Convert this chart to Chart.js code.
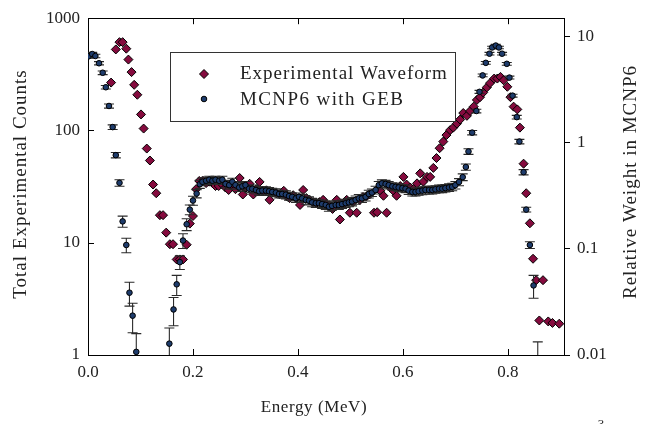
<!DOCTYPE html>
<html>
<head>
<meta charset="utf-8">
<script src="https://cdn.jsdelivr.net/npm/chart.js@4.4.1/dist/chart.umd.min.js"></script>
<style>
  html, body { margin: 0; padding: 0; background: #fff; }
  canvas { display: block; }
</style>
</head>
<body>
<canvas id="spectrum_canvas" width="655" height="424"></canvas>
<script>
// tick labels
var energyTicks = [0, 0.2, 0.4, 0.6, 0.8];
var countTicks = [1, 10, 100, 1000];
var weightTicks = [0.01, 0.1, 1, 10];

// Experimental Waveform (left axis, counts)
var expEnergy = [
  0.044, 0.053, 0.060, 0.066, 0.073, 0.077, 0.083, 0.088, 0.094, 0.101,
  0.106, 0.112, 0.118, 0.124, 0.130, 0.137, 0.143, 0.149, 0.156, 0.162,
  0.169, 0.175, 0.181, 0.188, 0.194, 0.200, 0.206, 0.212,
  0.219, 0.225, 0.231, 0.237, 0.243, 0.249, 0.256, 0.262, 0.268, 0.275,
  0.281, 0.289, 0.295, 0.301, 0.308, 0.315, 0.321, 0.327, 0.333, 0.340,
  0.346, 0.352, 0.359, 0.365, 0.373, 0.378, 0.384, 0.391, 0.397, 0.404,
  0.410, 0.416, 0.422, 0.429, 0.435, 0.441, 0.448, 0.454, 0.460, 0.466,
  0.474, 0.480, 0.486, 0.493, 0.499, 0.505, 0.512, 0.518, 0.524, 0.531,
  0.537, 0.545, 0.551, 0.557, 0.563, 0.569, 0.576, 0.582, 0.588, 0.595,
  0.601, 0.607, 0.614, 0.620, 0.627, 0.633, 0.639, 0.646, 0.652, 0.658,
  0.664, 0.670, 0.677, 0.683, 0.690, 0.696, 0.703, 0.709, 0.715, 0.722,
  0.728, 0.735, 0.741, 0.747, 0.753, 0.760, 0.766, 0.774, 0.780, 0.786,
  0.792, 0.799, 0.805, 0.811, 0.818, 0.823, 0.830, 0.835, 0.842, 0.848,
  0.854, 0.860, 0.867, 0.877, 0.885, 0.898
];
var expCounts = [
  267, 527, 612, 612, 535, 428, 331, 255, 208, 139,
  104, 69, 54, 33, 27.6, 17.6, 17.6, 12.3, 9.7, 9.7,
  7.1, 7.1, 7.1, 9.6, 14.8, 17.3, 30, 35.5,
  35.6, 34, 35, 34, 32, 32, 33, 31, 29.5, 32,
  30, 37.7, 26.9, 31, 33.5, 26.9, 30, 34.8, 29, 29.3,
  24.1, 28, 27.5, 27, 29, 26, 25, 26.5, 25, 21.7,
  29.5, 25, 24, 23, 22.5, 23, 24.1, 22, 21.5, 20,
  24.1, 16.1, 22, 24.1, 18.5, 23, 18.5, 24, 25.5, 26,
  27, 18.5, 18.7, 29, 26.2, 18.5, 31, 29, 26.2, 32,
  38.6, 33, 31, 30, 33.8, 41.5, 35, 38.6, 38.6, 46.4,
  56.8, 69.5, 79.6, 91, 100.7, 106, 115, 125, 143, 135,
  149, 163, 187, 198, 218, 242, 264, 290, 290, 300,
  280, 245, 198, 163, 154, 106, 50.6, 27.6, 14.9, 7.2,
  4.64, 2.03, 4.64, 1.99, 1.93, 1.9
];

// MCNP6 with GEB (right axis, relative weight)
var mcnpEnergy = [
  0.001, 0.008, 0.014, 0.021, 0.028, 0.034, 0.040, 0.047, 0.053, 0.060,
  0.066, 0.073, 0.079, 0.085, 0.092,
  0.155, 0.163, 0.169, 0.175, 0.181, 0.188, 0.194, 0.200, 0.207, 0.213,
  0.218, 0.225, 0.231, 0.237, 0.243, 0.250, 0.256, 0.262, 0.269, 0.275,
  0.281, 0.288, 0.294, 0.300, 0.307, 0.313, 0.320, 0.326, 0.332, 0.339,
  0.345, 0.351, 0.358, 0.364, 0.370, 0.377, 0.383, 0.389, 0.396, 0.402,
  0.408, 0.415, 0.421, 0.427, 0.434, 0.440, 0.446, 0.453, 0.459, 0.465,
  0.472, 0.478, 0.484, 0.491, 0.497, 0.503, 0.510, 0.516, 0.522, 0.529,
  0.535, 0.541, 0.548, 0.554, 0.560, 0.567, 0.573, 0.580, 0.586, 0.592,
  0.599, 0.605, 0.611, 0.618, 0.624, 0.630, 0.637, 0.643, 0.650, 0.656,
  0.662, 0.669, 0.675, 0.681, 0.688, 0.694, 0.700,
  0.707, 0.714, 0.720, 0.725, 0.732, 0.740, 0.746, 0.752, 0.758, 0.765,
  0.770, 0.777, 0.783, 0.789, 0.798, 0.803, 0.809, 0.817, 0.822, 0.830,
  0.835, 0.842, 0.849, 0.857
];
var mcnpWeight = [
  6.55, 6.89, 6.60, 5.64, 4.59, 3.35, 2.23, 1.41, 0.767, 0.420,
  0.182, 0.109, 0.0387, 0.0235, 0.0107,
  0.0128, 0.0269, 0.0464, 0.0751, 0.120, 0.171, 0.235, 0.286, 0.333, 0.408,
  0.43, 0.44, 0.45, 0.44, 0.45, 0.44, 0.45, 0.41, 0.40, 0.43,
  0.40, 0.38, 0.39, 0.40, 0.37, 0.37, 0.36, 0.35, 0.355, 0.355,
  0.35, 0.345, 0.34, 0.33, 0.33, 0.325, 0.315, 0.31, 0.30, 0.31,
  0.30, 0.29, 0.285, 0.275, 0.27, 0.27, 0.265, 0.26, 0.25, 0.255,
  0.26, 0.26, 0.265, 0.27, 0.275, 0.28, 0.29, 0.30, 0.30, 0.31,
  0.33, 0.34, 0.36, 0.40, 0.415, 0.41, 0.40, 0.39, 0.385, 0.38,
  0.375, 0.37, 0.355, 0.345, 0.345, 0.35, 0.355, 0.36, 0.36, 0.36,
  0.365, 0.37, 0.37, 0.375, 0.38, 0.385, 0.40,
  0.428, 0.476, 0.593, 0.83, 1.25, 2.00, 3.03, 4.33, 5.69, 6.94,
  7.94, 8.28, 7.94, 6.94, 5.57, 4.13, 2.79, 1.75, 1.03, 0.53,
  0.235, 0.109, 0.0453, 0.007
];
var mcnpError = [
  0.25, 0.25, 0.25, 0.2, 0.18, 0.13, 0.1, 0.07, 0.045, 0.03,
  0.022, 0.017, 0.0098, 0.0073, 0.0052,
  0.0052, 0.008, 0.01, 0.011, 0.019, 0.022, 0.025, 0.028, 0.03, 0.035,
  0.035, 0.035, 0.035, 0.035, 0.035, 0.035, 0.035, 0.033, 0.033, 0.035,
  0.033, 0.032, 0.032, 0.033, 0.031, 0.031, 0.03, 0.03, 0.03, 0.03,
  0.03, 0.029, 0.029, 0.028, 0.028, 0.028, 0.027, 0.027, 0.026, 0.027,
  0.026, 0.026, 0.025, 0.025, 0.024, 0.024, 0.024, 0.024, 0.023, 0.023,
  0.024, 0.024, 0.024, 0.024, 0.025, 0.025, 0.026, 0.026, 0.026, 0.027,
  0.028, 0.028, 0.03, 0.032, 0.033, 0.033, 0.032, 0.031, 0.031, 0.031,
  0.03, 0.03, 0.029, 0.029, 0.029, 0.029, 0.03, 0.03, 0.03, 0.03,
  0.03, 0.03, 0.03, 0.031, 0.031, 0.031, 0.032,
  0.033, 0.035, 0.04, 0.05, 0.06, 0.08, 0.1, 0.13, 0.17, 0.2,
  0.22, 0.23, 0.22, 0.2, 0.17, 0.13, 0.09, 0.07, 0.05, 0.03,
  0.012, 0.008, 0.011, 0.0063
];

var SERIF = "'Liberation Serif', 'DejaVu Serif', serif";
var TEXT = '#222';
var RED = '#850b3e';
var BLUE = '#1e3c6c';

function toPoints(xs, ys){
    var pts = [];
    for(var i = 0; i < xs.length; i++){
        pts.push({x: xs[i], y: ys[i]});
    }
    return pts;
}

// error bars for the MCNP6 points, drawn just before that dataset
var errorBarPlugin = {
    id: 'errorBars',
    beforeDatasetDraw: function(chart, args){
        if(args.index !== 0) return;
        var ctx = chart.ctx, a = chart.chartArea;
        var xs = chart.scales.x, ys = chart.scales.y1;
        ctx.save();
        ctx.beginPath();
        ctx.rect(a.left, a.top, a.right - a.left, a.bottom - a.top);
        ctx.clip();
        ctx.strokeStyle = '#2a2a2a';
        ctx.lineWidth = 1.1;
        for(var i = 0; i < mcnpEnergy.length; i++){
            var px = xs.getPixelForValue(mcnpEnergy[i]);
            var hi = ys.getPixelForValue(mcnpWeight[i] + mcnpError[i]);
            var lowVal = mcnpWeight[i] - mcnpError[i];
            var lo = ys.getPixelForValue(lowVal > 0 ? lowVal : 0.0001);
            ctx.beginPath();
            ctx.moveTo(px, hi); ctx.lineTo(px, lo);
            ctx.moveTo(px - 5, hi); ctx.lineTo(px + 5, hi);
            ctx.moveTo(px - 5, lo); ctx.lineTo(px + 5, lo);
            ctx.stroke();
        }
        ctx.restore();
    }
};

// frame, inner tick marks, axis titles and the boxed legend
var framePlugin = {
    id: 'frame',
    afterDraw: function(chart){
        var ctx = chart.ctx, a = chart.chartArea;
        var xs = chart.scales.x, ys = chart.scales.y;
        ctx.save();
        ctx.strokeStyle = '#000';
        ctx.lineWidth = 1;
        ctx.beginPath();
        ctx.moveTo(a.left, Math.round(a.top) + 0.5);
        ctx.lineTo(a.right, Math.round(a.top) + 0.5);
        energyTicks.forEach(function(v){
            var px = Math.round(xs.getPixelForValue(v)) + 0.5;
            ctx.moveTo(px, a.bottom); ctx.lineTo(px, a.bottom - 6);
            ctx.moveTo(px, a.top); ctx.lineTo(px, a.top + 6);
        });
        countTicks.forEach(function(v){
            var py = Math.round(ys.getPixelForValue(v)) + 0.5;
            ctx.moveTo(a.left, py); ctx.lineTo(a.left + 6, py);
        });
        ctx.stroke();

        ctx.fillStyle = TEXT;
        ctx.font = '17px ' + SERIF;
        ctx.textAlign = 'center';
        ctx.textBaseline = 'middle';
        ctx.letterSpacing = '0.6px';
        ctx.fillText('Energy (MeV)', 314, 408);

        ctx.font = '19px ' + SERIF;
        ctx.letterSpacing = '1px';
        ctx.save();
        ctx.translate(21, 184);
        ctx.rotate(-Math.PI / 2);
        ctx.fillText('Total Experimental Counts', 0, 0);
        ctx.restore();

        ctx.save();
        ctx.translate(631, 182);
        ctx.rotate(-Math.PI / 2);
        ctx.fillText('Relative Weight in MCNP6', 0, 0);
        ctx.restore();

        ctx.letterSpacing = '0px';
        ctx.font = '13px ' + SERIF;
        ctx.textBaseline = 'top';
        ctx.fillText('3', 601, 418);

        // legend
        ctx.lineWidth = 1;
        ctx.strokeStyle = '#333';
        ctx.strokeRect(170.5, 52.5, 285, 69);
        ctx.fillStyle = RED; ctx.strokeStyle = '#000';
        ctx.beginPath();
        ctx.moveTo(204, 69.5); ctx.lineTo(208.5, 74); ctx.lineTo(204, 78.5); ctx.lineTo(199.5, 74);
        ctx.closePath(); ctx.fill(); ctx.stroke();
        ctx.fillStyle = BLUE;
        ctx.beginPath();
        ctx.arc(204, 99, 2.8, 0, Math.PI * 2);
        ctx.fill(); ctx.stroke();

        ctx.fillStyle = TEXT;
        ctx.font = '19px ' + SERIF;
        ctx.letterSpacing = '1px';
        ctx.textAlign = 'left';
        ctx.textBaseline = 'middle';
        ctx.fillText('Experimental Waveform', 240, 74);
        ctx.letterSpacing = '1.4px';
        ctx.fillText('MCNP6 with GEB', 240, 100);
        ctx.letterSpacing = '0px';
        ctx.restore();
    }
};

function draw_chart(){
    var tickFont = {family: SERIF, size: 17};
    new Chart(document.getElementById('spectrum_canvas'), {
        type: 'scatter',
        data: {
            datasets: [{
                label: 'MCNP6 with GEB',
                data: toPoints(mcnpEnergy, mcnpWeight),
                yAxisID: 'y1',
                pointStyle: 'circle',
                pointRadius: 2.8,
                pointBackgroundColor: BLUE,
                pointBorderColor: '#000',
                pointBorderWidth: 1
            }, {
                label: 'Experimental Waveform',
                data: toPoints(expEnergy, expCounts),
                yAxisID: 'y',
                pointStyle: 'rectRot',
                pointRadius: 4.5,
                pointBackgroundColor: RED,
                pointBorderColor: '#000',
                pointBorderWidth: 1
            }]
        },
        options: {
            responsive: false,
            animation: false,
            devicePixelRatio: 1,
            layout: {padding: {top: 13, left: 0, right: 0, bottom: 0}},
            plugins: {legend: {display: false}, tooltip: {enabled: false}},
            scales: {
                x: {
                    type: 'linear', min: 0, max: 0.907,
                    afterBuildTicks: function(s){ s.ticks = energyTicks.map(function(v){ return {value: v}; }); },
                    afterFit: function(s){ s.height = 69; },
                    ticks: {font: tickFont, color: TEXT, padding: 7, maxRotation: 0,
                            callback: function(v){ return v.toFixed(1); }},
                    grid: {display: true, drawOnChartArea: false, drawTicks: false},
                    border: {display: true, color: '#000', width: 1}
                },
                y: {
                    type: 'logarithmic', position: 'left', min: 1, max: 1000,
                    afterBuildTicks: function(s){ s.ticks = countTicks.map(function(v){ return {value: v}; }); },
                    afterFit: function(s){ s.width = 88; },
                    ticks: {font: tickFont, color: TEXT, padding: 8,
                            callback: function(v){ return String(v); }},
                    grid: {display: true, drawOnChartArea: false, drawTicks: false},
                    border: {display: true, color: '#000', width: 1}
                },
                y1: {
                    type: 'logarithmic', position: 'right', min: 0.01, max: 15,
                    afterBuildTicks: function(s){ s.ticks = weightTicks.map(function(v){ return {value: v}; }); },
                    afterFit: function(s){ s.width = 91; },
                    ticks: {font: tickFont, color: TEXT, padding: 7,
                            callback: function(v){ return String(v); }},
                    grid: {display: true, drawOnChartArea: false, drawTicks: true, tickLength: 6, color: '#000'},
                    border: {display: true, color: '#000', width: 1}
                }
            }
        },
        plugins: [errorBarPlugin, framePlugin]
    });
}

draw_chart();
</script>
</body>
</html>
